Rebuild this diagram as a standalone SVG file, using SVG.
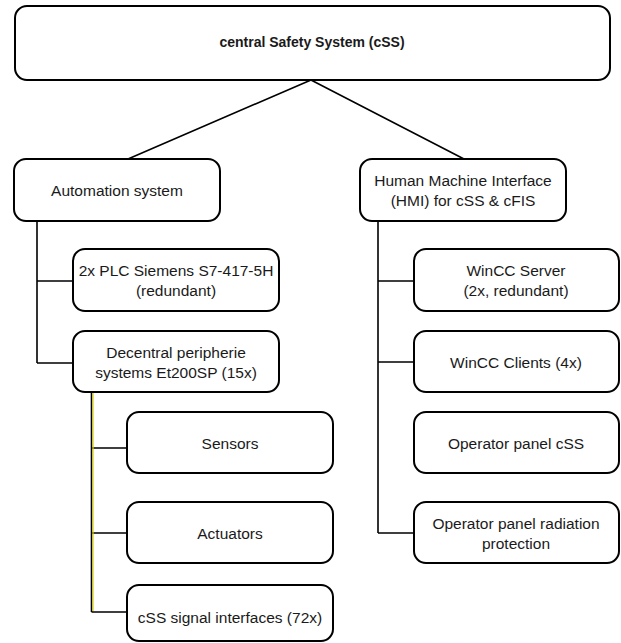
<svg xmlns="http://www.w3.org/2000/svg" width="621" height="643" viewBox="0 0 621 643">
<style>
.box{fill:#fff;stroke:#000;stroke-width:2}
.t{font-family:"Liberation Sans","Open Sans",Arial,sans-serif;font-size:15.5px;fill:#1a1a1a;text-anchor:middle}
.b{font-weight:bold;font-size:14px}
.c{fill:none;stroke:#000;stroke-width:1.6}
.y{fill:none;stroke:#d8cc00;stroke-width:1.2}
</style>
<rect width="621" height="643" fill="#fff"/>
<g id="connectors">
<path class="c" d="M311,80 L128,159 M311,80 L464,159"/>
<path class="c" d="M37,221 V363 M37,281 H73 M37,363 H73"/>
<path class="c" d="M91.5,392 V612 M91.5,448 H127 M91.5,533 H127 M91.5,612 H127"/>
<path class="y" d="M93,393 V611"/>
<path class="c" d="M378,221 V533 M378,281 H414 M378,362 H414 M378,533 H414"/>
</g>
<g id="css"><rect class="box" x="15" y="6" width="595" height="74" rx="12"/><text class="t b" x="312" y="47">central Safety System (cSS)</text></g>
<g id="automation"><rect class="box" x="14" y="159" width="206" height="62" rx="12"/><text class="t" x="117" y="196">Automation system</text></g>
<g id="hmi"><rect class="box" x="360" y="159" width="206" height="62" rx="12"/><text class="t" x="463" y="186">Human Machine Interface</text><text class="t" x="463" y="206">(HMI) for cSS &amp; cFIS</text></g>
<g id="plc"><rect class="box" x="73" y="249" width="206" height="62" rx="12"/><text class="t" x="176" y="276">2x PLC Siemens S7-417-5H</text><text class="t" x="176" y="296">(redundant)</text></g>
<g id="decentral"><rect class="box" x="73" y="331" width="206" height="61" rx="12"/><text class="t" x="176" y="357.5">Decentral peripherie</text><text class="t" x="176" y="377.5">systems Et200SP (15x)</text></g>
<g id="sensors"><rect class="box" x="127" y="412" width="206" height="61" rx="12"/><text class="t" x="230" y="448.5">Sensors</text></g>
<g id="actuators"><rect class="box" x="127" y="502" width="206" height="61" rx="12"/><text class="t" x="230" y="538.5">Actuators</text></g>
<g id="signal"><rect class="box" x="127" y="585" width="206" height="56" rx="12"/><text class="t" x="230" y="622.5">cSS signal interfaces (72x)</text></g>
<g id="server"><rect class="box" x="414" y="249" width="205" height="62" rx="12"/><text class="t" x="516" y="276">WinCC Server</text><text class="t" x="516" y="296">(2x, redundant)</text></g>
<g id="clients"><rect class="box" x="414" y="331" width="205" height="61" rx="12"/><text class="t" x="516" y="367.5">WinCC Clients (4x)</text></g>
<g id="panelcss"><rect class="box" x="414" y="412" width="205" height="61" rx="12"/><text class="t" x="516" y="448.5">Operator panel cSS</text></g>
<g id="panelrad"><rect class="box" x="414" y="502" width="205" height="61" rx="12"/><text class="t" x="516" y="528.5">Operator panel radiation</text><text class="t" x="516" y="548.5">protection</text></g>
</svg>
